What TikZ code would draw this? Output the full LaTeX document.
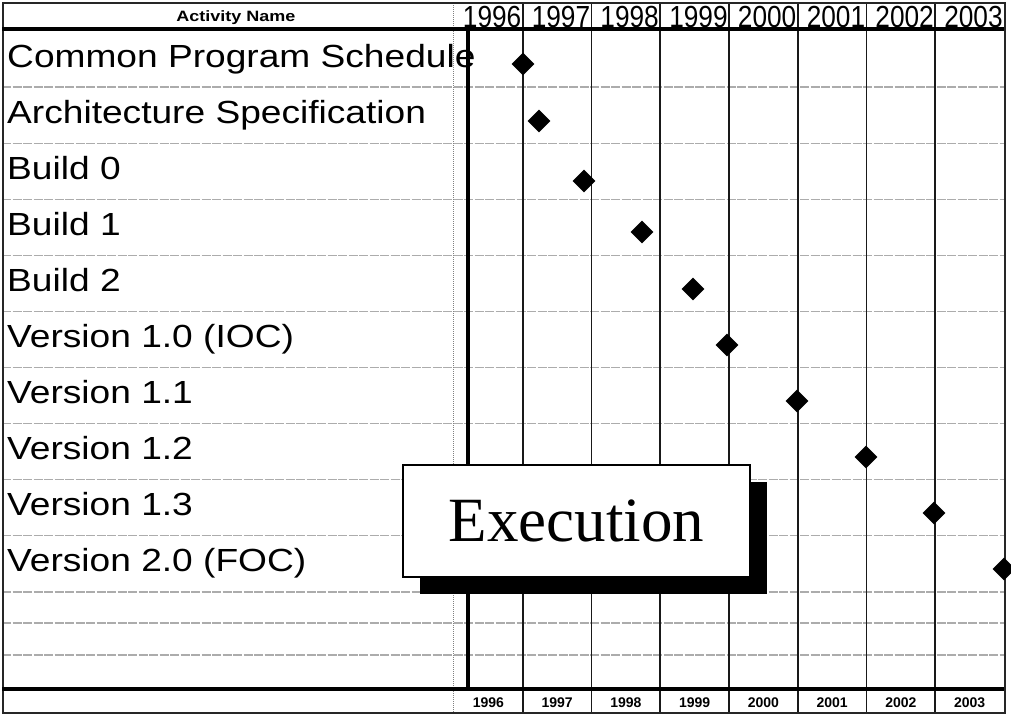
\documentclass[tikz,border=0pt]{standalone}
\usepackage{fontspec}
\setmainfont{Liberation Sans}
\newfontfamily\actfont[FakeStretch=1.16]{Liberation Sans}
\newfontfamily\headfont[FakeStretch=1.2]{Liberation Sans}
\newfontfamily\yearfont[FakeStretch=0.86]{Liberation Sans}
\newfontfamily\boxfont{Liberation Serif}
\usetikzlibrary{shapes.geometric,shadows}

\begin{document}
\begin{tikzpicture}[x=1pt, y=-1pt,
  rowline/.style={gray!65, line width=1.2pt, dash pattern=on 9pt off 1.5pt},
  colline/.style={black!90, line width=1.8pt},
  heavy/.style={black, line width=3.5pt},
  frameline/.style={black!85, line width=2pt},
  activity/.style={anchor=base west, inner sep=0pt, font=\actfont\fontsize{32}{36}\selectfont},
  yearhead/.style={anchor=base east, inner sep=0pt, font=\yearfont\fontsize{30.5}{34}\selectfont},
  yearfoot/.style={anchor=base, inner sep=0pt, font=\fontsize{14}{16}\selectfont\bfseries},
  milestone/.style={diamond, fill=black, inner sep=0pt, minimum width=23pt, minimum height=23pt},
  execbox/.style={draw, line width=2pt, fill=white, minimum width=347pt, minimum height=112pt,
    font=\boxfont\fontsize{63}{70}\selectfont,
    drop shadow={shadow xshift=16.5pt, shadow yshift=-16.5pt, fill=black, opacity=1}}]
\useasboundingbox (0,0) rectangle (1011,715);
% Header row
\node[inner sep=0pt, anchor=base, font=\headfont\fontsize{15}{18}\selectfont\bfseries] (hdr) at (236,21) {Activity Name};
\node[yearhead] (h1996) at (521.5,27) {1996};
\node[yearhead] (h1997) at (590.3,27) {1997};
\node[yearhead] (h1998) at (659,27) {1998};
\node[yearhead] (h1999) at (727.8,27) {1999};
\node[yearhead] (h2000) at (796.5,27) {2000};
\node[yearhead] (h2001) at (865.3,27) {2001};
\node[yearhead] (h2002) at (934,27) {2002};
\node[yearhead] (h2003) at (1002.8,27) {2003};
% Activity names
\node[activity] (cps) at (7,67) {Common Program Schedule};
\node[activity] (arch) at (7,123.1) {Architecture Specification};
\node[activity] (b0) at (7,179.2) {Build 0};
\node[activity] (b1) at (7,235.3) {Build 1};
\node[activity] (b2) at (7,291.4) {Build 2};
\node[activity] (v10) at (7,347.5) {Version 1.0 (IOC)};
\node[activity] (v11) at (7,403.6) {Version 1.1};
\node[activity] (v12) at (7,459.7) {Version 1.2};
\node[activity] (v13) at (7,515.8) {Version 1.3};
\node[activity] (v20) at (7,571.9) {Version 2.0 (FOC)};
% Footer years
\node[yearfoot] (f1996) at (488.4,707) {1996};
\node[yearfoot] (f1997) at (557.1,707) {1997};
\node[yearfoot] (f1998) at (625.9,707) {1998};
\node[yearfoot] (f1999) at (694.6,707) {1999};
\node[yearfoot] (f2000) at (763.4,707) {2000};
\node[yearfoot] (f2001) at (832.1,707) {2001};
\node[yearfoot] (f2002) at (900.9,707) {2002};
\node[yearfoot] (f2003) at (969.6,707) {2003};
% Grid: rows
\draw[rowline] (2,87) -- (1004,87) (2,143.1) -- (1004,143.1) (2,199.2) -- (1004,199.2)
  (2,255.3) -- (1004,255.3) (2,311.4) -- (1004,311.4) (2,367.5) -- (1004,367.5)
  (2,423.6) -- (1004,423.6) (2,479.7) -- (1004,479.7) (2,535.8) -- (1004,535.8)
  (2,591.9) -- (1004,591.9) (2,623) -- (1004,623) (2,655) -- (1004,655);
% Grid: year columns
\draw[colline] (522.75,3) -- (522.75,713) (591.5,3) -- (591.5,713) (660.25,3) -- (660.25,713)
  (729,3) -- (729,713) (797.75,3) -- (797.75,713) (866.5,3) -- (866.5,713)
  (935.25,3) -- (935.25,713);
\draw[gray, line width=1pt, densely dotted] (453,3) -- (453,713);
% Frame and heavy rules
\draw[frameline] (2.5,2.5) rectangle (1004.5,713);
\draw[heavy] (2,29) -- (1004,29);
\draw[heavy] (2,689) -- (1004,689);
\draw[heavy] (468,29) -- (468,689);
% Milestones
\node[milestone] (ms-cps) at (523,64) {};
\node[milestone] (ms-arch) at (539,121) {};
\node[milestone] (ms-b0) at (584,181) {};
\node[milestone] (ms-b1) at (642,232) {};
\node[milestone] (ms-b2) at (693,289) {};
\node[milestone] (ms-v10) at (727,345) {};
\node[milestone] (ms-v11) at (797,401) {};
\node[milestone] (ms-v12) at (866,457) {};
\node[milestone] (ms-v13) at (934,513) {};
\node[milestone] (ms-v20) at (1004,569) {};
% Phase label
\node[execbox] (exec) at (576.5,521) {Execution};
\end{tikzpicture}
\end{document}
